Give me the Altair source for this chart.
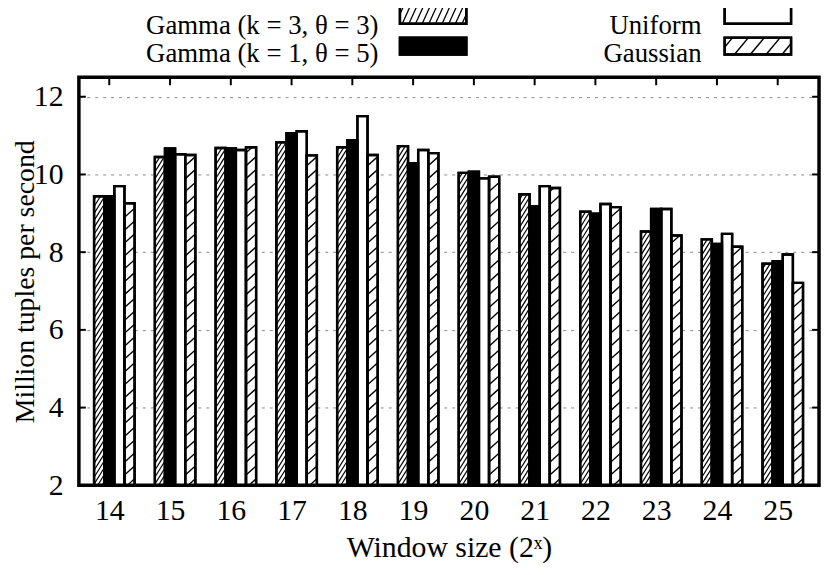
import altair as alt
import pandas as pd

# ---------------- data ----------------
windows = [14, 15, 16, 17, 18, 19, 20, 21, 22, 23, 24, 25]
series = ["Gamma (k = 3, θ = 3)", "Gamma (k = 1, θ = 5)", "Uniform", "Gaussian"]
gamma3 = [9.44, 10.45, 10.68, 10.83, 10.70, 10.73, 10.04, 9.49, 9.04, 8.53, 8.33, 7.70]
gamma1 = [9.44, 10.67, 10.67, 11.06, 10.88, 10.29, 10.07, 9.18, 8.99, 9.11, 8.21, 7.77]
uniform = [9.70, 10.52, 10.63, 11.11, 11.50, 10.63, 9.90, 9.70, 9.24, 9.11, 8.47, 7.94]
gaussian = [9.26, 10.50, 10.70, 10.49, 10.50, 10.55, 9.94, 9.65, 9.16, 8.43, 8.14, 7.21]
y_ticks = [2, 4, 6, 8, 10, 12]

# ---------------- layout / style ----------------
W, H = 746.5, 411.5
XMIN, XMAX = 13.5, 25.68
YMIN, YMAX = 2.0, 12.5
BOX = 1.0 / 6.0
FONT = "Liberation Serif"
FS = 30
PX_X = W / (XMAX - XMIN)
PX_Y = H / (YMAX - YMIN)

fills = ["white", "black", "white", "white"]
# hatch style per series: (slope px/px, vertical spacing px, stroke width) or None
hatch = [(1.6, 7.0, 1.2), None, None, (0.9, 13.0, 1.4)]

xs = alt.Scale(domain=[XMIN, XMAX], nice=False, zero=False)
ys = alt.Scale(domain=[YMIN, YMAX], nice=False, zero=False)

rows = []
for j, (name, vals) in enumerate(zip(series, [gamma3, gamma1, uniform, gaussian])):
    for g, v in zip(windows, vals):
        c = g + (j - 1) * BOX
        rows.append({"s": name, "g": g, "v": v, "xl": c - BOX / 2, "xr": c + BOX / 2})
bars = pd.DataFrame(rows)

# hatch segments built from the bar table
hrows = []
for r in rows:
    j = series.index(r["s"])
    h = hatch[j]
    if h is None:
        continue
    slope, spacing, sw = h
    rise = slope * (BOX * PX_X) / PX_Y
    step = spacing / PX_Y
    y0 = YMIN - rise + step * 0.5
    while y0 < r["v"]:
        t0 = max(0.0, (YMIN - y0) / rise)
        t1 = min(1.0, (r["v"] - y0) / rise)
        if t1 > t0:
            hrows.append({
                "x1": r["xl"] + t0 * (r["xr"] - r["xl"]),
                "x2": r["xl"] + t1 * (r["xr"] - r["xl"]),
                "y1": y0 + t0 * rise,
                "y2": y0 + t1 * rise,
                "w": sw,
            })
        y0 += step
hatch_df = pd.DataFrame(hrows)

# ---------------- layers ----------------
bar_layer = alt.Chart(bars).mark_rect(stroke="black", strokeWidth=2.4).encode(
    x=alt.X("xl:Q", scale=xs, axis=alt.Axis(
        values=windows, title="Window size (2ˣ)", ticks=False, domain=False, grid=False,
        labelFont=FONT, labelFontSize=FS, labelColor="black", labelPadding=10,
        labelFlush=False, labelOverlap=False,
        titleFont=FONT, titleFontSize=FS, titleFontWeight="normal", titleColor="black",
        titleX=W / 2, titleY=63, titleBaseline="middle", titleAlign="center")),
    x2="xr:Q",
    y=alt.Y("v:Q", scale=ys, axis=alt.Axis(
        values=y_ticks, title="Million tuples per second", ticks=False, domain=False,
        grid=True, gridDash=[3, 5], gridColor="#8a8a8a", gridWidth=1,
        labelFont=FONT, labelFontSize=FS, labelColor="black", labelPadding=16,
        titleFont=FONT, titleFontSize=28, titleFontWeight="normal", titleColor="black",
        titleX=-46, titleY=H / 2, titleAngle=-90, titleBaseline="alphabetic",
        titleAlign="center")),
    y2=alt.Y2(datum=YMIN),
    fill=alt.Fill("s:N", scale=alt.Scale(domain=series, range=fills), legend=None),
)

hatch_layer = alt.Chart(hatch_df).mark_rule(color="black").encode(
    x=alt.X("x1:Q", scale=xs, axis=None),
    x2="x2:Q",
    y=alt.Y("y1:Q", scale=ys, axis=None),
    y2="y2:Q",
    strokeWidth=alt.StrokeWidth("w:Q", scale=None),
)

outline_layer = alt.Chart(bars).mark_rect(stroke="black", strokeWidth=2.4, fillOpacity=0).encode(
    x=alt.X("xl:Q", scale=xs, axis=None),
    x2="xr:Q",
    y=alt.Y("v:Q", scale=ys, axis=None),
    y2=alt.Y2(datum=YMIN),
)

yt = pd.DataFrame({"t": y_ticks})
xt = pd.DataFrame({"t": windows})
tick_left = alt.Chart(yt).mark_rule(color="black", strokeWidth=2).encode(
    y=alt.Y("t:Q", scale=ys, axis=None), x=alt.value(0), x2=alt.value(7))
tick_right = alt.Chart(yt).mark_rule(color="black", strokeWidth=2).encode(
    y=alt.Y("t:Q", scale=ys, axis=None), x=alt.value(W - 7), x2=alt.value(W))
tick_top = alt.Chart(xt).mark_rule(color="black", strokeWidth=2).encode(
    x=alt.X("t:Q", scale=xs, axis=None), y=alt.value(0), y2=alt.value(8))

frame = alt.Chart(pd.DataFrame({"a": [0]})).mark_rect(
    fillOpacity=0, stroke="black", strokeWidth=3.5).encode(
    x=alt.value(0), x2=alt.value(W), y=alt.value(0), y2=alt.value(H))

# ---------------- legend (drawn as marks above the plot) ----------------
SW_W, SW_H = 67, 17
leg = pd.DataFrame({
    "label": series,
    "tx": [302.2, 302.2, 628.0, 628.0],
    "ty": [-43.5, -15.5, -43.5, -15.5],
    "sx": [323.8, 323.8, 651.3, 651.3],
    "sy": [-71.0, -40.0, -71.0, -40.0],
    "fill": fills,
})
leg["sx2"] = leg["sx"] + SW_W
leg["sy2"] = leg["sy"] + SW_H

leg_hatch = {0: (2.2, 6.7, 1.3), 3: (1.2, 16.0, 1.5)}
lrows = []
for j, (slope, hs, sw) in leg_hatch.items():
    x0, x1 = leg["sx"][j], leg["sx2"][j]
    ytop, ybot = leg["sy"][j], leg["sy2"][j]
    dx = SW_H / slope
    xa = x0 - dx + hs * 0.5
    while xa < x1:
        t0 = max(0.0, (x0 - xa) / dx)
        t1 = min(1.0, (x1 - xa) / dx)
        if t1 > t0:
            lrows.append({"x1": xa + t0 * dx, "x2": xa + t1 * dx,
                          "y1": ybot - t0 * SW_H, "y2": ybot - t1 * SW_H, "w": sw})
        xa += hs
leg_hatch_df = pd.DataFrame(lrows)

leg_sw = alt.Chart(leg).mark_rect(stroke="black", strokeWidth=2.4).encode(
    x=alt.X("sx:Q", scale=None, axis=None), x2="sx2:Q",
    y=alt.Y("sy:Q", scale=None, axis=None), y2="sy2:Q",
    fill=alt.Fill("fill:N", scale=None),
)
leg_h = alt.Chart(leg_hatch_df).mark_rule(color="black").encode(
    x=alt.X("x1:Q", scale=None, axis=None), x2="x2:Q",
    y=alt.Y("y1:Q", scale=None, axis=None), y2="y2:Q",
    strokeWidth=alt.StrokeWidth("w:Q", scale=None),
)
leg_sw_outline = alt.Chart(leg).mark_rect(stroke="black", strokeWidth=2.4, fillOpacity=0).encode(
    x=alt.X("sx:Q", scale=None, axis=None), x2="sx2:Q",
    y=alt.Y("sy:Q", scale=None, axis=None), y2="sy2:Q",
)
leg_txt = alt.Chart(leg).mark_text(
    align="right", baseline="alphabetic", font=FONT, fontSize=27, color="black").encode(
    x=alt.X("tx:Q", scale=None, axis=None),
    y=alt.Y("ty:Q", scale=None, axis=None),
    text="label:N",
)

chart = alt.layer(
    bar_layer, hatch_layer, outline_layer, tick_left, tick_right, tick_top, frame,
    leg_sw, leg_h, leg_sw_outline, leg_txt,
).resolve_scale(x="independent", y="independent").properties(
    width=W, height=H,
    autosize=alt.AutoSizeParams(type="none"),
    padding={"left": 71.5, "top": 67.5, "right": 3, "bottom": 79},
).configure_view(stroke=None).configure(background="white")

chart.save("out.html", embed_options={"renderer": "svg", "actions": False})
